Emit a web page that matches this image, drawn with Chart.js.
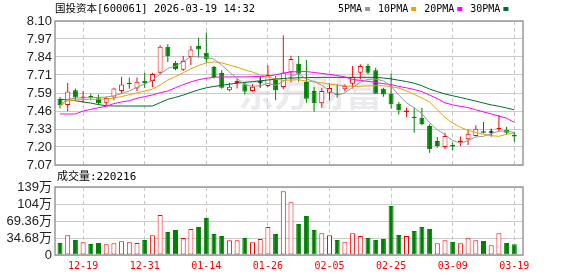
<!DOCTYPE html>
<html>
<head>
<meta charset="utf-8">
<script src="https://cdn.jsdelivr.net/npm/chart.js@4.4.1/dist/chart.umd.min.js"></script>
<style>
body { margin:0; background:#fff; }
#wrap { position:relative; width:578px; height:276px; }
#wrap canvas { position:absolute; left:0; top:0; }
</style>
</head>
<body>
<div id="wrap">
	<canvas id="kline" width="578" height="276"></canvas>
	<canvas id="vol" width="578" height="276"></canvas>
</div>
<script>
var titleText = "国投资本[600061] 2026-03-19 14:32";
var volTitle = "成交量:220216";

var dates = ["12-16","12-17","12-18","12-19","12-22","12-23","12-24","12-25","12-26","12-29","12-30","12-31",
	"01-05","01-06","01-07","01-08","01-09","01-12","01-13","01-14",
	"01-15","01-16","01-19","01-20","01-21","01-22","01-23","01-26",
	"01-27","01-28","01-29","01-30","02-02","02-03","02-04","02-05",
	"02-06","02-09","02-10","02-11","02-12","02-13","02-24","02-25",
	"02-26","02-27","03-02","03-03","03-04","03-05","03-06","03-09",
	"03-10","03-11","03-12","03-13","03-16","03-17","03-18","03-19"];

var openP = [7.544,7.499,7.604,7.549,7.559,7.547,7.516,7.552,7.599,7.654,
	7.618,7.673,7.671,7.730,7.916,7.802,7.752,7.842,7.921,7.873,
	7.771,7.728,7.604,7.657,7.647,7.599,7.659,7.635,7.690,7.628,
	7.733,7.795,7.664,7.599,7.511,7.587,7.578,7.611,7.652,7.730,
	7.778,7.747,7.616,7.580,7.509,7.449,7.413,7.408,7.349,7.242,
	7.199,7.211,7.234,7.254,7.277,7.308,7.301,7.325,7.320,7.280];
var highP = [7.556,7.657,7.618,7.599,7.580,7.575,7.559,7.623,7.702,7.695,
	7.695,7.730,7.730,7.926,7.933,7.814,7.850,7.921,7.981,8.017,
	7.778,7.747,7.659,7.688,7.664,7.647,7.699,7.783,7.707,7.997,
	7.852,7.850,7.821,7.628,7.623,7.654,7.647,7.647,7.778,7.790,
	7.795,7.766,7.623,7.723,7.521,7.480,7.480,7.480,7.361,7.270,
	7.301,7.230,7.273,7.325,7.354,7.378,7.330,7.428,7.344,7.308];
var lowP = [7.475,7.454,7.533,7.516,7.533,7.499,7.499,7.533,7.580,7.616,
	7.599,7.623,7.628,7.719,7.807,7.747,7.742,7.785,7.838,7.802,
	7.688,7.616,7.595,7.618,7.575,7.595,7.623,7.628,7.533,7.611,
	7.661,7.666,7.516,7.451,7.480,7.533,7.552,7.595,7.618,7.683,
	7.719,7.580,7.559,7.475,7.432,7.413,7.301,7.354,7.158,7.194,
	7.182,7.175,7.206,7.213,7.273,7.296,7.273,7.313,7.285,7.237];
var closeP = [7.499,7.595,7.552,7.559,7.552,7.511,7.549,7.618,7.645,7.647,
	7.666,7.654,7.721,7.916,7.847,7.754,7.814,7.897,7.897,7.826,
	7.699,7.623,7.630,7.671,7.595,7.630,7.659,7.714,7.604,7.730,
	7.828,7.723,7.544,7.511,7.599,7.621,7.571,7.635,7.699,7.778,
	7.730,7.580,7.575,7.504,7.461,7.456,7.404,7.361,7.182,7.206,
	7.277,7.203,7.246,7.294,7.330,7.301,7.301,7.332,7.301,7.273];

var ma5 = [7.50,7.54,7.548,7.55,7.552,7.553,7.556,7.565,7.58,7.60,
	7.625,7.65,7.675,7.72,7.76,7.778,7.81,7.845,7.845,7.84,
	7.828,7.785,7.735,7.69,7.645,7.632,7.637,7.654,7.64,7.667,
	7.707,7.72,7.686,7.667,7.641,7.60,7.569,7.587,7.625,7.661,
	7.683,7.684,7.672,7.633,7.57,7.515,7.48,7.437,7.373,7.322,
	7.286,7.246,7.225,7.245,7.27,7.275,7.294,7.312,7.313,7.302];
var ma10 = [7.49,7.53,7.535,7.538,7.54,7.54,7.542,7.548,7.56,7.573,
	7.585,7.60,7.612,7.642,7.678,7.703,7.73,7.758,7.782,7.80,
	7.808,7.80,7.785,7.77,7.75,7.735,7.715,7.70,7.685,7.675,
	7.678,7.68,7.67,7.665,7.658,7.648,7.642,7.635,7.633,7.633,
	7.635,7.637,7.637,7.63,7.62,7.60,7.575,7.55,7.52,7.465,
	7.41,7.37,7.34,7.318,7.303,7.29,7.28,7.275,7.29,7.297];
var ma20 = [7.435,7.435,7.435,7.456,7.468,7.48,7.49,7.509,7.521,7.53,
	7.547,7.559,7.571,7.587,7.599,7.623,7.645,7.665,7.68,7.69,
	7.698,7.70,7.70,7.70,7.70,7.702,7.703,7.705,7.715,7.728,
	7.735,7.738,7.738,7.732,7.725,7.718,7.71,7.70,7.682,7.675,
	7.668,7.66,7.652,7.645,7.632,7.622,7.61,7.595,7.57,7.545,
	7.515,7.50,7.49,7.48,7.465,7.45,7.435,7.42,7.405,7.375];
var ma30 = [7.54,7.535,7.53,7.521,7.513,7.502,7.494,7.492,7.492,7.492,
	7.492,7.492,7.492,7.516,7.54,7.554,7.57,7.59,7.608,7.622,
	7.632,7.64,7.648,7.655,7.661,7.666,7.672,7.678,7.684,7.689,
	7.692,7.694,7.695,7.696,7.697,7.697,7.697,7.697,7.697,7.697,
	7.697,7.697,7.692,7.686,7.676,7.667,7.655,7.637,7.613,7.595,
	7.578,7.565,7.553,7.54,7.527,7.513,7.50,7.49,7.478,7.465];

// volume in 万 (10k)
var volume = [24.5,40.1,30.6,25.8,22.4,24.5,21.8,23.8,27.9,25.8,
	24.5,30.6,40.1,81.6,46.9,51.0,34.7,53.0,57.1,75.5,
	42.8,38.8,29.9,29.9,34.7,25.8,32.6,57.1,42.8,129.9,
	107.4,63.2,79.6,51.0,44.2,40.1,30.6,25.8,44.2,38.8,
	34.7,30.6,32.6,100.0,40.8,38.8,49.0,57.1,53.0,23.8,
	29.9,26.5,23.8,34.0,29.9,28.6,19.7,44.2,24.5,22.02];
var volUp = [0,1,0,1,0,0,1,1,1,1, 1,0,1,1,0,0,1,1,0,0,
	0,0,1,1,0,1,1,1,0,1, 1,0,0,0,1,1,0,1,1,1,
	0,0,0,0,0,1,0,0,0,1, 1,0,1,1,1,0,1,1,0,0];

var maNames = ["5PMA","10PMA","20PMA","30PMA"];
var maColors = ["#999999","#f0a000","#ff00ff","#006b30"];

var priceTicks = [7.07,7.19875,7.3275,7.45625,7.585,7.71375,7.8425,7.97125,8.10];
var priceLabels = ["7.07","7.20","7.33","7.46","7.59","7.71","7.84","7.97","8.10"];
var volTicks = [0,34.68,69.36,104.04,138.72];
var volLabels = ["0","34.68万","69.36万","104万","139万"];
var dateTickIdx = [3,11,19,27,35,43,51,59];

var RED = "#ff0000", GREEN = "#008000", BLACK = "#000000";
var monoFont = "'DejaVu Sans Mono', 'Noto Sans CJK SC', monospace";
var axisFont = "'Liberation Sans', 'Noto Sans CJK SC', sans-serif";

function candleColor(i) {
	if (closeP[i] > openP[i]) return RED;
	if (closeP[i] < openP[i]) return GREEN;
	return BLACK;
}

function xy(arr) {
	return arr.map(function(v, i) { return {x:i, y:v}; });
}

var frame = {
	id: "frame",
	afterDatasetsDraw: function(chart) {
		var a = chart.chartArea, ctx = chart.ctx;
		ctx.save();
		ctx.strokeStyle = "#999999";
		ctx.lineWidth = 1.5;
		ctx.strokeRect(a.left, a.top, a.right - a.left, a.bottom - a.top);
		ctx.restore();
	}
};

var header = {
	id: "header",
	beforeDatasetsDraw: function(chart) {
		// faint watermark
		var ctx = chart.ctx;
		ctx.save();
		ctx.fillStyle = "rgba(205,205,215,0.4)";
		ctx.font = "bold 36px 'Noto Sans CJK SC'";
		ctx.textBaseline = "middle";
		ctx.fillText("东方财富", 238, 93);
		ctx.restore();
	},
	afterDraw: function(chart) {
		var ctx = chart.ctx;
		ctx.save();
		ctx.fillStyle = "#000";
		ctx.textBaseline = "middle";
		ctx.font = "10.5px " + monoFont;
		ctx.fillText(titleText, 55, 9.5);

		ctx.font = "10px " + monoFont;
		var x = 338;
		for (var k = 0; k < maNames.length; k++) {
			ctx.fillStyle = "#000";
			ctx.fillText(maNames[k], x, 9);
			x += ctx.measureText(maNames[k]).width + 3;
			ctx.fillStyle = maColors[k];
			ctx.fillRect(x, 7, 5, 4);
			x += 13;
		}
		ctx.restore();
	}
};

var volHeader = {
	id: "volHeader",
	afterDraw: function(chart) {
		var ctx = chart.ctx;
		ctx.save();
		ctx.fillStyle = "#000";
		ctx.textBaseline = "middle";
		ctx.font = "11px " + monoFont;
		ctx.fillText(volTitle, 57, 177.5);
		ctx.restore();
	}
};

function xScale(showLabels) {
	return {
		type: "linear", min: -0.65, max: 60.13, offset: false, bounds: "data",
		afterBuildTicks: function(s) { s.ticks = dateTickIdx.map(function(v) { return {value:v}; }); },
		afterFit: function(s) { s.height = showLabels ? 21 : 0; },
		ticks: {
			display: showLabels, autoSkip: false, maxRotation: 0, padding: 5,
			color: RED, font: {family: monoFont, size: 10},
			callback: function(v) { return dates[v]; }
		},
		grid: {color: "#c8c8c8", lineWidth: 1, drawTicks: false, offset: false},
		border: {display: false, dash: [4, 3]}
	};
}

function yScale(min, max, ticks, labels) {
	return {
		min: min, max: max,
		afterBuildTicks: function(s) { s.ticks = ticks.map(function(v) { return {value:v}; }); },
		afterFit: function(s) { s.width = 55; },
		ticks: {
			autoSkip: false, padding: 3, color: "#222", font: {family: axisFont, size: 13},
			callback: function(v, i) { return labels[i]; }
		},
		grid: {color: "#cccccc", lineWidth: 1, drawTicks: false},
		border: {display: false}
	};
}

var wickColors = dates.map(function(d, i) { return candleColor(i); });
var bodyFill = dates.map(function(d, i) { var c = candleColor(i); return c == RED ? "#ffffff" : c; });

var lineSets = [ma5, ma10, ma20, ma30].map(function(arr, k) {
	return {
		type: "line", label: maNames[k], data: xy(arr),
		borderColor: maColors[k], borderWidth: 1, pointRadius: 0,
		tension: 0, fill: false, order: 0
	};
});

new Chart(document.getElementById("kline"), {
	type: "bar",
	data: {
		datasets: [{
			label: "wick",
			data: dates.map(function(d, i) { return {x:i, y:[lowP[i], highP[i]]}; }),
			backgroundColor: wickColors, barThickness: 1, grouped: false,
			inflateAmount: 0, order: 3
		}, {
			label: "body",
			data: dates.map(function(d, i) { return {x:i, y:[openP[i], closeP[i]]}; }),
			backgroundColor: bodyFill, borderColor: wickColors, borderWidth: 1,
			borderSkipped: false, barThickness: 5, minBarLength: 1.5,
			grouped: false, inflateAmount: 0, order: 2
		}].concat(lineSets)
	},
	options: {
		responsive: false, animation: false, events: [],
		layout: {padding: {left: 0, right: 55, top: 21, bottom: 111}},
		plugins: {legend: {display: false}, tooltip: {enabled: false}},
		scales: {
			x: xScale(false),
			y: yScale(7.07, 8.10, priceTicks, priceLabels)
		}
	},
	plugins: [header, frame]
});

new Chart(document.getElementById("vol"), {
	type: "bar",
	data: {
		datasets: [{
			label: "volume",
			data: xy(volume),
			backgroundColor: volUp.map(function(u) { return u ? "#ffffff" : GREEN; }),
			borderColor: volUp.map(function(u) { return u ? RED : GREEN; }),
			borderWidth: 1, borderSkipped: false, barThickness: 5,
			grouped: false, inflateAmount: 0
		}]
	},
	options: {
		responsive: false, animation: false, events: [],
		layout: {padding: {left: 0, right: 55, top: 187, bottom: 0}},
		plugins: {legend: {display: false}, tooltip: {enabled: false}},
		scales: {
			x: xScale(true),
			y: yScale(0, 138.72, volTicks, volLabels)
		}
	},
	plugins: [volHeader, frame]
});
</script>
</body>
</html>
